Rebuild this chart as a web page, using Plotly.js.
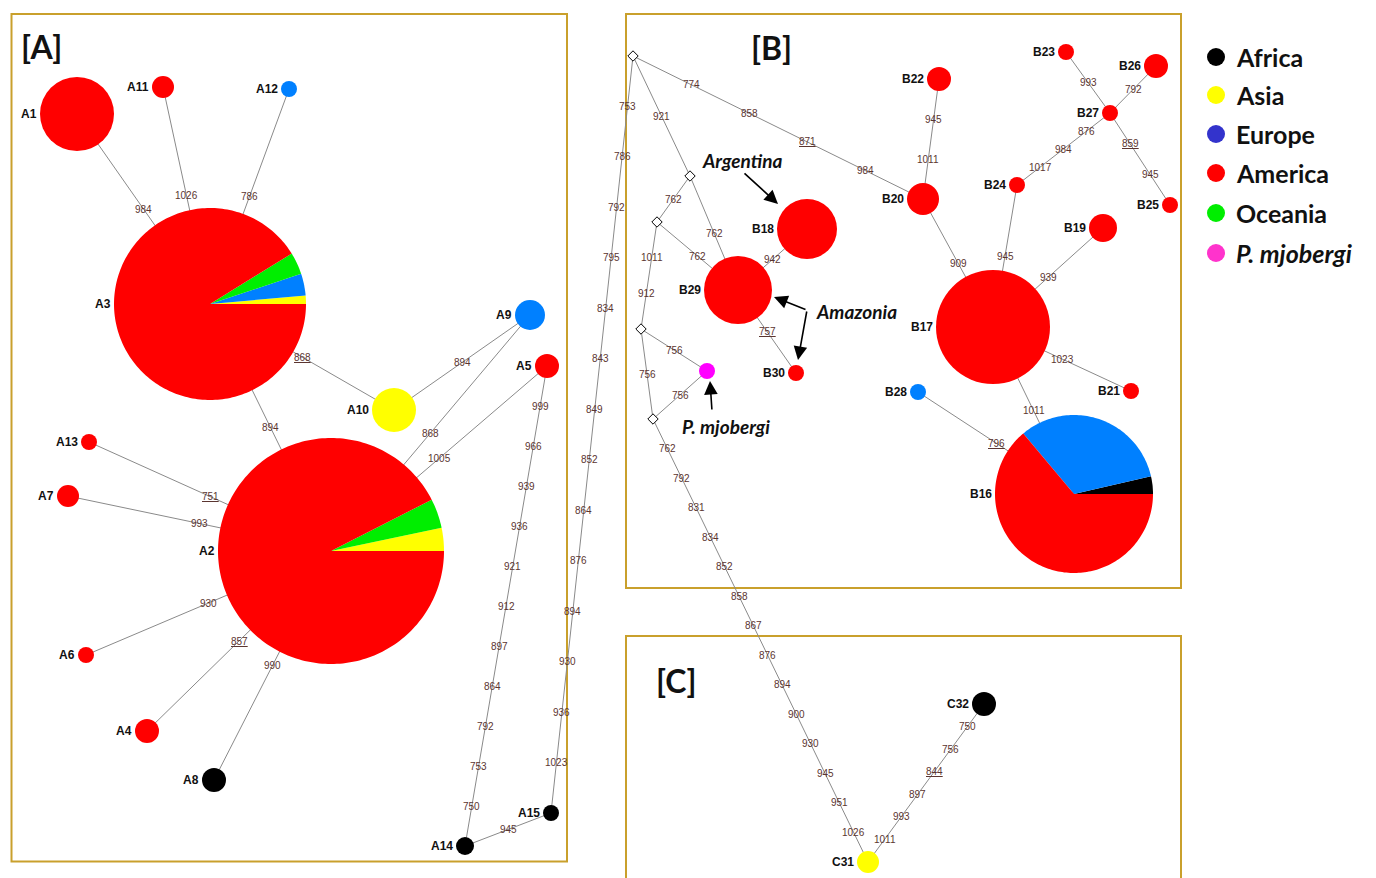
<!DOCTYPE html>
<html><head><meta charset="utf-8">
<script src="https://cdn.plot.ly/plotly-3.0.1.min.js"></script>
<style>html,body{margin:0;padding:0;background:#fff;overflow:hidden}#chart{width:1376px;height:878px}</style>
</head><body><div id="chart"></div>
<script>
// ---------------- data ----------------
const hapIds = ['A1','A2','A3','A4','A5','A6','A7','A8','A9','A10','A11','A12','A13','A14','A15',
  'B16','B17','B18','B19','B20','B21','B22','B23','B24','B25','B26','B27','B28','B29','B30','C31','C32','Pm'];
const hapX = [77,331,210,147,547,86,68,214,530,394,163,289,89,465,551,
  1074,993,807,1103,923,1131,939,1066,1017,1170,1156,1110,918,738,796,868,984,707];
const hapY = [114,551,304,731,366,655,496,780,315,410,87,89,442,846,813,
  494,327,229,228,199,391,79,52,185,205,66,113,392,290,373,862,704,371];
const hapRadius = [37,113,96,12,12,8,11,12,15,22,11,8,8,9,8,
  79,57,30,14,16,8,12,8,8,8,12,8,8,34,8,11,12,8];
const hapOrigin = ['America','mixed','mixed','America','America','America','America','Africa','Europe','Asia','America','Europe','America','Africa','Africa',
  'mixed','America','America','America','America','America','America','America','America','America','America','America','Europe','America','America','Asia','Africa','P. mjobergi'];

// pie compositions (%), order: Africa, Asia, Europe, Oceania, America
const pieOrder = ['Africa','Asia','Europe','Oceania','America'];
const pieA2 = [0, 3.3, 0, 4.2, 92.5];
const pieA3 = [0, 1.4, 3.7, 3.7, 91.2];
const pieB16 = [3.6, 0, 32.5, 0, 63.9];

// median vectors
const mvIds = ['mv1','mv2','mv3','mv4','mv5'];
const mvX = [633,690,657,641,653];
const mvY = [56,176,222,329,419];

// edges and mutation labels (listed from the first node to the second)
const edgeFrom = ['A1','A11','A12','A3','A3','A10','A9','A5','A13','A7','A6','A4','A8','A5','A14','A15',
  'mv1','mv1','mv2','mv2','mv3','mv3','B29','B29','mv4','mv4','mv5','mv5',
  'B20','B20','B17','B24','B23','B26','B27','B17','B17','B17','B28','C31'];
const edgeTo = ['A3','A3','A3','A10','A2','A9','A2','A2','A2','A2','A2','A2','A2','A14','A15','mv1',
  'B20','mv2','B29','mv3','B29','mv4','B18','B30','Pm','mv5','Pm','C31',
  'B22','B17','B24','B27','B27','B27','B25','B19','B21','B16','B16','C32'];
const edgeLabels = [
  ['984'],['1026'],['786'],['<u>868</u>'],['894'],['894'],['868'],['1005'],['<u>751</u>'],['993'],['930'],['<u>857</u>'],['990'],
  ['999','966','939','936','921','912','897','864','792','753','750'],
  ['945'],
  ['1023','936','930','894','876','864','852','849','843','834','795','792','786','753'],
  ['774','858','<u>871</u>','984'],['921'],['762'],['762'],['762'],['1011','912'],['942'],['<u>757</u>'],
  ['756'],['756'],['756'],
  ['762','792','831','834','852','858','867','876','894','900','930','945','951','1026'],
  ['1011','945'],['909'],['945'],['1017','984','876'],['993'],['792'],['<u>859</u>','945'],['939'],['1023'],['1011'],['<u>796</u>'],
  ['1011','993','897','<u>844</u>','756','750']
];

const legendNames = ['Africa','Asia','Europe','America','Oceania','<i>P. mjobergi</i>'];
const legendColors = ['#000000','#ffff00','#3333cc','#ff0000','#00ee00','#ff33cc'];

// ---------------- styles ----------------
const originColor = {Africa:'#000000', Asia:'#ffff00', Europe:'#0080ff', Oceania:'#00ee00', America:'#ff0000', 'P. mjobergi':'#ff00ff'};
const pies = {A2: pieA2, A3: pieA3, B16: pieB16};
const edgeColor = '#8a8a8a';
const mutColor = '#5b3530';
const boxColor = '#c9a02c';

const pos = {};
hapIds.forEach((id,i)=>pos[id]={x:hapX[i],y:hapY[i],r:hapRadius[i]});
mvIds.forEach((id,i)=>pos[id]={x:mvX[i],y:mvY[i],r:0});

const ex=[], ey=[];
edgeFrom.forEach((f,i)=>{const a=pos[f], b=pos[edgeTo[i]]; ex.push(a.x,b.x,null); ey.push(a.y,b.y,null);});

const annotations = [];
const shapes = [];

[[11.5,14,567,861.5],[626,14,1181,588],[626,636,1181,905]].forEach(b=>{
  shapes.push({type:'rect',xref:'x',yref:'y',x0:b[0],y0:b[1],x1:b[2],y1:b[3],line:{color:boxColor,width:2},fillcolor:'rgba(0,0,0,0)',layer:'below'});
});

edgeFrom.forEach((f,i)=>{
  const a=pos[f], b=pos[edgeTo[i]], labs=edgeLabels[i], n=labs.length;
  labs.forEach((t,k)=>{
    const fr=(k+1)/(n+1);
    annotations.push({x:a.x+(b.x-a.x)*fr, y:a.y+(b.y-a.y)*fr, xref:'x', yref:'y', text:t, showarrow:false,
      font:{family:'Liberation Sans, Arial, sans-serif', size:10, color:mutColor}, borderpad:0});
  });
});

function slicePath(cx,cy,r,a0,a1){
  let d='M '+cx+','+cy;
  const n=Math.max(2,Math.ceil((a1-a0)/1.5));
  for(let i=0;i<=n;i++){
    const a=(a0+(a1-a0)*i/n)*Math.PI/180;
    d+=' L '+(cx+r*Math.cos(a)).toFixed(2)+','+(cy-r*Math.sin(a)).toFixed(2);
  }
  return d+' Z';
}
hapIds.forEach((id,i)=>{
  const cx=hapX[i], cy=hapY[i], r=hapRadius[i], o=hapOrigin[i];
  if(o==='mixed'){
    const comp=pies[id]; let a=0;
    comp.forEach((p,k)=>{
      if(p<=0) return;
      const a1=a+p*3.6;
      shapes.push({type:'path',xref:'x',yref:'y',path:slicePath(cx,cy,r,a,a1),fillcolor:originColor[pieOrder[k]],line:{width:0}});
      a=a1;
    });
  } else {
    shapes.push({type:'circle',xref:'x',yref:'y',x0:cx-r,x1:cx+r,y0:cy-r,y1:cy+r,fillcolor:originColor[o],line:{width:0}});
  }
  if(id!=='Pm'){
    annotations.push({x:cx-r-2,y:cy,xref:'x',yref:'y',text:'<b>'+id+'</b>',showarrow:false,xanchor:'right',yanchor:'middle',
      font:{family:'Liberation Sans, Arial, sans-serif',size:12,color:'#111'}, borderpad:0});
  }
});

[['[A]',41,46],['[B]',771,47],['[C]',676,680]].forEach(p=>{
  annotations.push({x:p[1],y:p[2],xref:'x',yref:'y',text:'<b>'+p[0]+'</b>',showarrow:false,
    font:{family:'Lato, Open Sans, sans-serif',size:32,color:'#111'}});
});

const calloutFont={family:'Lato, Open Sans, sans-serif',size:19,color:'#111'};
annotations.push({x:742,y:160,xref:'x',yref:'y',text:'<b><i>Argentina</i></b>',showarrow:false,font:calloutFont});
annotations.push({x:856,y:311,xref:'x',yref:'y',text:'<b><i>Amazonia</i></b>',showarrow:false,font:calloutFont});
annotations.push({x:726,y:426,xref:'x',yref:'y',text:'<b><i>P. mjobergi</i></b>',showarrow:false,font:calloutFont});
[[778,204,743,172],[774,297,807,310],[798,360,807,310],[710,381,712,411]].forEach(a=>{
  annotations.push({x:a[0],y:a[1],ax:a[2],ay:a[3],xref:'x',yref:'y',axref:'x',ayref:'y',text:'',showarrow:true,
    arrowhead:2,arrowsize:1.7,arrowwidth:1.6,arrowcolor:'#000',standoff:0,startstandoff:0});
});

const legY=[57,95,134,173,213,253];
legendNames.forEach((n,i)=>{
  annotations.push({x:1234,y:legY[i],xref:'x',yref:'y',text:'<b>'+n+'</b>',showarrow:false,xanchor:'left',yanchor:'middle',
    font:{family:'Lato, Open Sans, sans-serif',size:25,color:'#111'}});
});

const traces=[
  {type:'scatter',mode:'lines',x:ex,y:ey,line:{color:edgeColor,width:1},hoverinfo:'skip',showlegend:false},
  {type:'scatter',mode:'markers',x:mvX,y:mvY,marker:{symbol:'diamond',size:8,color:'#fff',line:{color:'#000',width:1}},hoverinfo:'skip',showlegend:false},
  {type:'scatter',mode:'markers',x:legendNames.map(()=>1216),y:legY,marker:{size:18,color:legendColors},hoverinfo:'skip',showlegend:false}
];

const layout={
  width:1376,height:878,margin:{l:0,r:0,t:0,b:0},
  paper_bgcolor:'#fff',plot_bgcolor:'#fff',showlegend:false,
  xaxis:{range:[0,1376],visible:false,fixedrange:true},
  yaxis:{range:[878,0],visible:false,fixedrange:true},
  shapes:shapes,annotations:annotations
};
Plotly.newPlot('chart',traces,layout,{staticPlot:true});
</script></body></html>
